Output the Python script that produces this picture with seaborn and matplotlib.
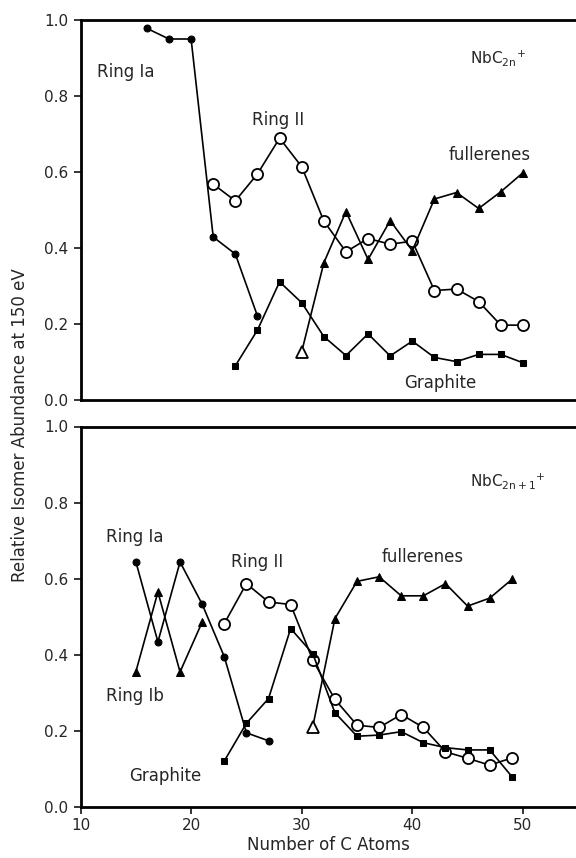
import numpy as np
import pandas as pd
import matplotlib
matplotlib.use("Agg")
import matplotlib.pyplot as plt
import seaborn as sns

# ---------------- data: top panel (NbC2n+) ----------------
top_ring1a_x = [16, 18, 20, 22, 24, 26]
top_ring1a_y = [0.978, 0.950, 0.950, 0.429, 0.384, 0.221]

top_ring2_x = [22, 24, 26, 28, 30, 32, 34, 36, 38, 40, 42, 44, 46, 48, 50]
top_ring2_y = [0.568, 0.524, 0.595, 0.689, 0.614, 0.471, 0.390, 0.425, 0.410,
               0.418, 0.288, 0.292, 0.259, 0.197, 0.197]

top_graph_x = [24, 26, 28, 30, 32, 34, 36, 38, 40, 42, 44, 46, 48, 50]
top_graph_y = [0.090, 0.184, 0.311, 0.256, 0.167, 0.117, 0.174, 0.116, 0.155,
               0.112, 0.101, 0.120, 0.120, 0.098]

top_full_x = [30, 32, 34, 36, 38, 40, 42, 44, 46, 48, 50]
top_full_y = [0.127, 0.361, 0.496, 0.370, 0.472, 0.393, 0.529, 0.546, 0.504,
              0.548, 0.598]

# ---------------- data: bottom panel (NbC2n+1+) ----------------
bot_ring1a_x = [15, 17, 19, 21, 23, 25, 27]
bot_ring1a_y = [0.645, 0.434, 0.644, 0.533, 0.395, 0.195, 0.174]

bot_ring1b_x = [15, 17, 19, 21]
bot_ring1b_y = [0.355, 0.565, 0.355, 0.486]

bot_ring2_x = [23, 25, 27, 29, 31, 33, 35, 37, 39, 41, 43, 45, 47, 49]
bot_ring2_y = [0.482, 0.587, 0.539, 0.532, 0.386, 0.283, 0.215, 0.209, 0.243,
               0.209, 0.145, 0.128, 0.110, 0.129]

bot_graph_x = [23, 25, 27, 29, 31, 33, 35, 37, 39, 41, 43, 45, 47, 49]
bot_graph_y = [0.121, 0.220, 0.285, 0.469, 0.403, 0.248, 0.186, 0.189, 0.198,
               0.169, 0.156, 0.150, 0.150, 0.080]

bot_full_x = [31, 33, 35, 37, 39, 41, 43, 45, 47, 49]
bot_full_y = [0.211, 0.495, 0.593, 0.605, 0.555, 0.555, 0.587, 0.528, 0.549,
              0.598]

y_ticks = [0.0, 0.2, 0.4, 0.6, 0.8, 1.0]
x_ticks = [10, 20, 30, 40, 50]

# ---------------- styling ----------------
sns.set_style("ticks")
plt.rcParams["font.family"] = ["DejaVu Sans"]
plt.rcParams["mathtext.default"] = "regular"

fig = plt.figure(figsize=(5.76, 8.58), dpi=100)
left = 80.5 / 576
width = 1 - left
ax_top = fig.add_axes([left, 1 - 400 / 858, width, (400 - 20) / 858])
ax_bot = fig.add_axes([left, 1 - 807 / 858, width, (807 - 426.5) / 858])

LW = 1.2
styles = {
    "fcirc": dict(marker="o", markersize=5, markerfacecolor="black",
                  markeredgecolor="black"),
    "ocirc": dict(marker="o", markersize=8, markerfacecolor="white",
                  markeredgecolor="black", markeredgewidth=1.3),
    "square": dict(marker="s", markersize=4.5, markerfacecolor="black",
                   markeredgecolor="black"),
    "tri": dict(marker="^", markersize=6, markerfacecolor="black",
                markeredgecolor="black"),
}


def series(ax, xs, ys, style, open_first=False):
    df = pd.DataFrame({"x": xs, "y": ys})
    sns.lineplot(data=df, x="x", y="y", ax=ax, color="black", linewidth=LW,
                 sort=False, estimator=None, **styles[style])
    if open_first:
        ax.plot(xs[:1], ys[:1], linestyle="none", marker="^", markersize=8,
                markerfacecolor="white", markeredgecolor="black",
                markeredgewidth=1.3, zorder=5)


series(ax_top, top_ring1a_x, top_ring1a_y, "fcirc")
series(ax_top, top_ring2_x, top_ring2_y, "ocirc")
series(ax_top, top_graph_x, top_graph_y, "square")
series(ax_top, top_full_x, top_full_y, "tri", open_first=True)

series(ax_bot, bot_ring1a_x, bot_ring1a_y, "fcirc")
series(ax_bot, bot_ring1b_x, bot_ring1b_y, "tri")
series(ax_bot, bot_ring2_x, bot_ring2_y, "ocirc")
series(ax_bot, bot_graph_x, bot_graph_y, "square")
series(ax_bot, bot_full_x, bot_full_y, "tri", open_first=True)

FS = 12
for ax in (ax_top, ax_bot):
    ax.set_xlim(10, 54.8)
    ax.set_ylim(0, 1.0)
    ax.set_yticks(y_ticks)
    ax.set_yticklabels([f"{v:.1f}" for v in y_ticks], fontsize=11)
    ax.spines["right"].set_visible(False)
    for s in ("left", "bottom", "top"):
        ax.spines[s].set_linewidth(2.0)
        ax.spines[s].set_color("black")
    ax.tick_params(axis="y", direction="out", length=5, width=1.3, pad=4)
    ax.set_ylabel("")
    ax.set_xlabel("")

ax_top.set_xticks(x_ticks)
ax_top.tick_params(axis="x", length=0, labelbottom=False)
ax_bot.set_xticks(x_ticks)
ax_bot.set_xticklabels([str(v) for v in x_ticks], fontsize=11)
ax_bot.tick_params(axis="x", direction="out", length=5, width=1.3, pad=3)
ax_bot.set_xlabel("Number of C Atoms", fontsize=12, labelpad=2)

fig.text(0.035, 0.505, "Relative Isomer Abundance at 150 eV", rotation=90,
         ha="center", va="center", fontsize=12)

# annotations top
ax_top.text(11.45, 0.863, "Ring Ia", fontsize=FS, va="center", ha="left")
ax_top.text(25.5, 0.737, "Ring II", fontsize=FS, va="center", ha="left")
ax_top.text(43.3, 0.645, "fullerenes", fontsize=FS, va="center", ha="left")
ax_top.text(39.3, 0.045, "Graphite", fontsize=FS, va="center", ha="left")
ax_top.text(45.2, 0.90, r"NbC$_{2n}{}^{+}$", fontsize=11, va="center", ha="left")

# annotations bottom
ax_bot.text(12.3, 0.71, "Ring Ia", fontsize=FS, va="center", ha="left")
ax_bot.text(23.6, 0.644, "Ring II", fontsize=FS, va="center", ha="left")
ax_bot.text(37.2, 0.657, "fullerenes", fontsize=FS, va="center", ha="left")
ax_bot.text(12.3, 0.292, "Ring Ib", fontsize=FS, va="center", ha="left")
ax_bot.text(14.4, 0.081, "Graphite", fontsize=FS, va="center", ha="left")
ax_bot.text(45.2, 0.858, r"NbC$_{2n+1}{}^{+}$", fontsize=11, va="center", ha="left")

fig.savefig("out.png", dpi=100)
